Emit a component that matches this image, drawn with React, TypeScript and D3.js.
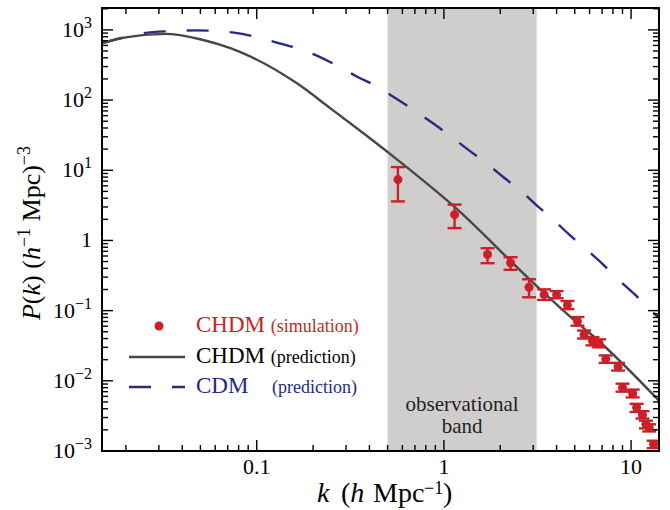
import React from 'react';
import * as d3 from 'd3';

// CHDM prediction (solid)
const chdmK = [0.0149, 0.0187, 0.024, 0.0325, 0.0499, 0.0723, 0.0927, 0.164, 0.248, 0.373, 0.563, 1.14, 2.85, 5.38, 6.09, 14.1];
const chdmP = [646, 757, 834, 877, 736, 548, 416, 173, 76, 33.4, 14.2, 3.0, 0.284, 0.061, 0.0464, 0.0052];

// CDM prediction (dashed)
const cdmK = [0.0149, 0.0187, 0.0248, 0.035, 0.047, 0.0755, 0.128, 0.164, 0.215, 0.269, 0.344, 0.44, 0.552, 0.691, 0.867, 1.086, 1.334, 1.67, 2.05, 2.55, 3.13, 3.84, 4.66, 5.71, 7.03, 8.46, 10.4, 12.5, 14.1];
const cdmP = [646, 760, 897, 960, 985, 915, 659, 548, 416, 309, 215, 155, 106, 72, 47.5, 30.6, 20, 12.9, 8.2, 5.2, 3.16, 1.98, 1.22, 0.76, 0.464, 0.284, 0.173, 0.106, 0.079];

// CHDM simulation points with error bars
const simK = [0.568, 1.14, 1.71, 2.27, 2.85, 3.43, 4.0, 4.57, 5.17, 5.61, 6.22, 6.75, 7.32, 8.52, 9.0, 10.2, 10.7, 11.5, 12.0, 12.5, 13.2];
const simP = [7.36, 2.33, 0.63, 0.48, 0.215, 0.169, 0.169, 0.12, 0.0703, 0.0454, 0.037, 0.034, 0.0204, 0.0158, 0.008, 0.0066, 0.00416, 0.00327, 0.0024, 0.00215, 0.00125];
const simLo = [3.6, 1.5, 0.474, 0.381, 0.155, 0.142, 0.15, 0.105, 0.061, 0.04, 0.032, 0.03, 0.018, 0.014, 0.007, 0.0058, 0.0036, 0.0029, 0.0021, 0.0019, 0.0011];
const simHi = [11.1, 3.24, 0.776, 0.577, 0.28, 0.201, 0.19, 0.137, 0.081, 0.052, 0.042, 0.039, 0.023, 0.018, 0.0091, 0.0075, 0.0047, 0.0037, 0.0027, 0.0024, 0.0014];

const bandRange = [0.5, 3.13];
const xTickLabels = ['0.1', '1', '10'];
const yExponents = [3, 2, 1, 0, -1, -2, -3];

const W = 670;
const H = 510;
const left = 102, right = 659, top = 8, bottom = 451;

const RED = '#cc1f27';
const NAVY = '#262a86';
const GREY = '#474747';
const FONT = '"Liberation Serif", "Times New Roman", serif';

export default function App() {
  const x = d3.scaleLog().domain([0.0149, 14.1]).range([left, right]);
  const y = d3.scaleLog().domain([1e-3, 2050]).range([bottom, top]);

  const line = d3.line<[number, number]>()
    .x(d => x(d[0]))
    .y(d => y(d[1]))
    .curve(d3.curveMonotoneX);

  const chdmPath = line(chdmK.map((k, i) => [k, chdmP[i]]));
  const cdmPath = line(cdmK.map((k, i) => [k, cdmP[i]]));

  // tick positions
  const xMajor = [0.1, 1, 10];
  const xMinor: number[] = [];
  [0.01, 0.1, 1, 10].forEach(d => {
    for (let m = 2; m <= 9; m++) {
      const v = d * m;
      if (v > 0.0149 && v < 14.1) xMinor.push(v);
    }
  });
  const yMajor = yExponents.map(e => Math.pow(10, e));
  const yMinor: number[] = [];
  [1e-3, 1e-2, 1e-1, 1, 10, 100, 1000].forEach(d => {
    for (let m = 2; m <= 9; m++) {
      const v = d * m;
      if (v < 2050) yMinor.push(v);
    }
  });

  const MAJ = 11, MIN = 6;
  const tickStyle = { stroke: '#000', strokeWidth: 1.4 };
  const bandMid = (x(bandRange[0]) + x(bandRange[1])) / 2;

  return (
    <svg width={W} height={H} style={{ position: 'absolute', left: 0, top: 0, background: '#fff' }} fontFamily={FONT}>
      <defs>
        <clipPath id="plot">
          <rect x={left} y={top} width={right - left} height={bottom - top} />
        </clipPath>
      </defs>

      {/* observational band */}
      <rect x={x(bandRange[0])} y={top} width={x(bandRange[1]) - x(bandRange[0])} height={bottom - top} fill="#d0cecd" />
      <text x={bandMid} y={411} textAnchor="middle" fontSize={21} fill="#222">observational</text>
      <text x={bandMid} y={433} textAnchor="middle" fontSize={21} fill="#222">band</text>

      <g clipPath="url(#plot)">
        <path d={cdmPath || ''} fill="none" stroke={NAVY} strokeWidth={2.4} strokeDasharray="22,21" />
        <path d={chdmPath || ''} fill="none" stroke={GREY} strokeWidth={2.4} />

        {simK.map((k, i) => {
          const cx = x(k);
          return (
            <g key={i} stroke={RED} strokeWidth={2.4}>
              <line x1={cx} x2={cx} y1={y(simLo[i])} y2={y(simHi[i])} />
              <line x1={cx - 7} x2={cx + 7} y1={y(simLo[i])} y2={y(simLo[i])} />
              <line x1={cx - 7} x2={cx + 7} y1={y(simHi[i])} y2={y(simHi[i])} />
              <circle cx={cx} cy={y(simP[i])} r={4.5} fill={RED} stroke="none" />
            </g>
          );
        })}
      </g>

      {/* ticks */}
      {xMajor.map(v => (
        <g key={'xM' + v} {...tickStyle}>
          <line x1={x(v)} x2={x(v)} y1={bottom} y2={bottom - MAJ} />
          <line x1={x(v)} x2={x(v)} y1={top} y2={top + MAJ} />
        </g>
      ))}
      {xMinor.map(v => (
        <g key={'xm' + v} {...tickStyle}>
          <line x1={x(v)} x2={x(v)} y1={bottom} y2={bottom - MIN} />
          <line x1={x(v)} x2={x(v)} y1={top} y2={top + MIN} />
        </g>
      ))}
      {yMajor.map(v => (
        <g key={'yM' + v} {...tickStyle}>
          <line x1={left} x2={left + MAJ} y1={y(v)} y2={y(v)} />
          <line x1={right} x2={right - MAJ} y1={y(v)} y2={y(v)} />
        </g>
      ))}
      {yMinor.map(v => (
        <g key={'ym' + v} {...tickStyle}>
          <line x1={left} x2={left + MIN} y1={y(v)} y2={y(v)} />
          <line x1={right} x2={right - MIN} y1={y(v)} y2={y(v)} />
        </g>
      ))}

      {/* frame */}
      <rect x={left} y={top} width={right - left} height={bottom - top} fill="none" stroke="#000" strokeWidth={2} />

      {/* x tick labels */}
      {xMajor.map((v, i) => (
        <text key={'xl' + v} x={x(v)} y={bottom + 23} textAnchor="middle" fontSize={22}>{xTickLabels[i]}</text>
      ))}

      {/* y tick labels */}
      {yExponents.map(e => (
        e === 0 ? (
          <text key={'yl' + e} x={left - 10} y={y(1) + 7} textAnchor="end" fontSize={22}>1</text>
        ) : (
          <text key={'yl' + e} x={left - 10} y={y(Math.pow(10, e)) + 7} textAnchor="end" fontSize={22}>
            10<tspan fontSize={16} dy={-9}>{e < 0 ? '\u2212' + Math.abs(e) : String(e)}</tspan>
          </text>
        )
      ))}

      {/* x axis title */}
      <g fontSize={28}>
        <text x={317} y={502} fontStyle="italic">k</text>
        <text x={341} y={502}>(<tspan fontStyle="italic">h</tspan></text>
        <text x={373} y={502}>Mpc</text>
        <text x={424} y={494} fontSize={18}>{'\u2212'}1</text>
        <text x={443} y={502}>)</text>
      </g>

      {/* y axis title */}
      <text transform="translate(40,233) rotate(-90)" textAnchor="middle" fontSize={26}>
        <tspan fontStyle="italic">P</tspan>(<tspan fontStyle="italic">k</tspan>) (<tspan fontStyle="italic">h</tspan><tspan fontSize={18} dy={-10}>{'\u2212'}1</tspan><tspan dy={10}> Mpc)</tspan><tspan fontSize={18} dy={-10}>{'\u2212'}3</tspan>
      </text>

      {/* legend */}
      <circle cx={159} cy={326} r={4.5} fill={RED} />
      <text x={196} y={332} fontSize={23} fill={RED}>CHDM <tspan fontSize={18}>(simulation)</tspan></text>
      <line x1={129} x2={185} y1={357} y2={357} stroke={GREY} strokeWidth={2.4} />
      <text x={196} y={363} fontSize={23} fill="#000">CHDM <tspan fontSize={18}>(prediction)</tspan></text>
      <line x1={129} x2={185} y1={387} y2={387} stroke={NAVY} strokeWidth={2.4} strokeDasharray="22,21" />
      <text x={196} y={393} fontSize={23} fill={NAVY}>CDM</text>
      <text x={272} y={393} fontSize={18} fill={NAVY}>(prediction)</text>
    </svg>
  );
}
